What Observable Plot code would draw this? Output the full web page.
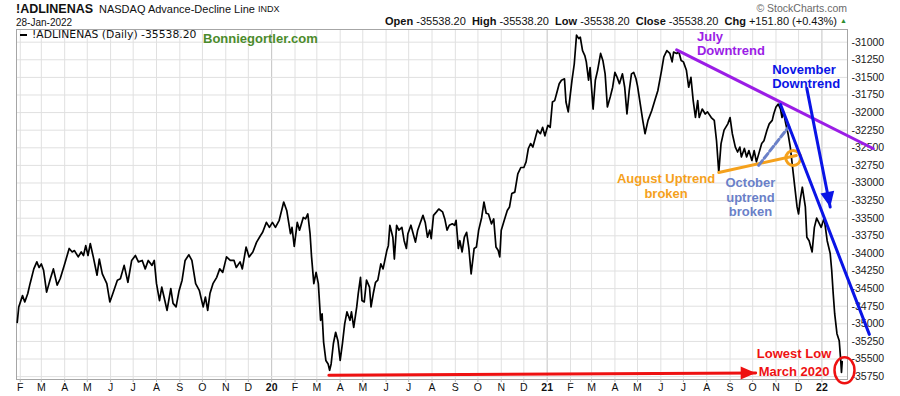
<!DOCTYPE html>
<html><head><meta charset="utf-8">
<script src="https://cdn.jsdelivr.net/npm/d3@7"></script>
<script src="https://cdn.jsdelivr.net/npm/@observablehq/plot@0.6"></script>
<style>
body{margin:0;background:#fff;}
#wrap{position:relative;width:900px;height:396px;overflow:hidden;font-family:"Liberation Sans",Arial,sans-serif;color:#111;}
#wrap svg{position:absolute;left:0;top:0;}
.abs{position:absolute;white-space:nowrap;line-height:1;}
</style></head><body>
<div id="wrap"></div>
<script>
// ---- data ----
const dates = ["2019-01-28","2019-01-30","2019-02-04","2019-02-07","2019-02-11","2019-02-14","2019-02-19","2019-02-23","2019-02-26","2019-03-01","2019-03-04","2019-03-08","2019-03-13","2019-03-17","2019-03-22","2019-03-26","2019-04-01","2019-04-07","2019-04-11","2019-04-14","2019-04-19","2019-04-23","2019-04-26","2019-04-29","2019-05-02","2019-05-05","2019-05-09","2019-05-14","2019-05-17","2019-05-21","2019-05-27","2019-05-31","2019-06-04","2019-06-10","2019-06-14","2019-06-19","2019-06-24","2019-06-29","2019-07-04","2019-07-08","2019-07-13","2019-07-17","2019-07-21","2019-07-26","2019-07-29","2019-08-01","2019-08-05","2019-08-08","2019-08-11","2019-08-15","2019-08-20","2019-08-23","2019-08-27","2019-08-31","2019-09-04","2019-09-08","2019-09-13","2019-09-17","2019-09-22","2019-09-27","2019-10-02","2019-10-05","2019-10-08","2019-10-11","2019-10-15","2019-10-20","2019-10-24","2019-10-28","2019-11-02","2019-11-07","2019-11-12","2019-11-15","2019-11-20","2019-11-23","2019-11-28","2019-12-02","2019-12-07","2019-12-12","2019-12-17","2019-12-20","2019-12-25","2019-12-29","2020-01-02","2020-01-06","2020-01-11","2020-01-17","2020-01-21","2020-01-26","2020-01-28","2020-01-31","2020-02-04","2020-02-07","2020-02-12","2020-02-15","2020-02-18","2020-02-21","2020-02-23","2020-02-26","2020-02-29","2020-03-03","2020-03-06","2020-03-08","2020-03-10","2020-03-13","2020-03-16","2020-03-18","2020-03-20","2020-03-23","2020-03-26","2020-03-29","2020-04-01","2020-04-04","2020-04-07","2020-04-10","2020-04-14","2020-04-16","2020-04-19","2020-04-23","2020-04-25","2020-04-28","2020-04-30","2020-05-03","2020-05-06","2020-05-10","2020-05-12","2020-05-15","2020-05-18","2020-05-21","2020-05-25","2020-05-28","2020-06-02","2020-06-04","2020-06-06","2020-06-10","2020-06-12","2020-06-15","2020-06-18","2020-06-22","2020-06-25","2020-06-28","2020-06-30","2020-07-04","2020-07-07","2020-07-10","2020-07-13","2020-07-16","2020-07-20","2020-07-23","2020-07-26","2020-07-29","2020-07-31","2020-08-03","2020-08-07","2020-08-10","2020-08-15","2020-08-18","2020-08-21","2020-08-24","2020-08-28","2020-08-31","2020-09-02","2020-09-05","2020-09-07","2020-09-10","2020-09-13","2020-09-16","2020-09-19","2020-09-22","2020-09-26","2020-09-29","2020-10-02","2020-10-06","2020-10-09","2020-10-12","2020-10-15","2020-10-19","2020-10-22","2020-10-25","2020-10-28","2020-10-30","2020-11-01","2020-11-05","2020-11-09","2020-11-12","2020-11-15","2020-11-19","2020-11-23","2020-11-27","2020-12-01","2020-12-04","2020-12-07","2020-12-10","2020-12-13","2020-12-16","2020-12-19","2020-12-23","2020-12-26","2020-12-29","2021-01-02","2021-01-05","2021-01-08","2021-01-11","2021-01-14","2021-01-17","2021-01-20","2021-01-24","2021-01-26","2021-01-29","2021-02-03","2021-02-06","2021-02-09","2021-02-12","2021-02-14","2021-02-17","2021-02-20","2021-02-22","2021-02-25","2021-02-27","2021-03-03","2021-03-06","2021-03-09","2021-03-13","2021-03-16","2021-03-19","2021-03-22","2021-03-26","2021-03-29","2021-04-01","2021-04-04","2021-04-07","2021-04-11","2021-04-14","2021-04-17","2021-04-20","2021-04-23","2021-04-26","2021-04-29","2021-05-01","2021-05-04","2021-05-08","2021-05-11","2021-05-15","2021-05-20","2021-05-24","2021-05-28","2021-06-02","2021-06-05","2021-06-09","2021-06-13","2021-06-16","2021-06-18","2021-06-22","2021-06-25","2021-06-28","2021-07-01","2021-07-05","2021-07-08","2021-07-11","2021-07-14","2021-07-17","2021-07-20","2021-07-22","2021-07-26","2021-07-30","2021-08-02","2021-08-07","2021-08-11","2021-08-14","2021-08-17","2021-08-20","2021-08-24","2021-08-29","2021-09-01","2021-09-04","2021-09-08","2021-09-11","2021-09-14","2021-09-16","2021-09-20","2021-09-23","2021-09-26","2021-09-30","2021-10-03","2021-10-06","2021-10-09","2021-10-13","2021-10-16","2021-10-20","2021-10-23","2021-10-27","2021-10-29","2021-11-01","2021-11-04","2021-11-07","2021-11-09","2021-11-11","2021-11-14","2021-11-17","2021-11-20","2021-11-22","2021-11-24","2021-11-26","2021-11-29","2021-12-01","2021-12-03","2021-12-06","2021-12-10","2021-12-12","2021-12-15","2021-12-19","2021-12-22","2021-12-25","2021-12-31","2022-01-04","2022-01-08","2022-01-12","2022-01-14","2022-01-16","2022-01-18","2022-01-21","2022-01-24","2022-01-26","2022-01-27","2022-01-28"];
const values = [-34980,-34760,-34600,-34690,-34570,-34430,-34220,-34120,-34200,-34150,-34240,-34550,-34360,-34220,-34450,-34360,-34150,-33930,-33980,-33960,-34050,-33980,-34030,-33890,-34030,-33860,-34050,-34310,-34080,-34290,-34430,-34690,-34570,-34380,-34360,-34170,-34410,-34100,-34030,-34120,-34100,-34220,-34100,-34170,-34100,-34430,-34670,-34480,-34620,-34810,-34500,-34710,-34760,-34530,-34380,-34100,-34020,-34100,-34430,-34530,-34760,-34620,-34810,-34570,-34430,-34340,-34220,-34270,-34050,-34100,-34100,-34200,-34120,-34220,-33910,-34050,-33980,-33840,-33750,-33700,-33560,-33630,-33560,-33630,-33530,-33270,-33390,-33720,-33630,-33900,-33560,-33670,-33490,-33510,-33440,-33720,-34050,-34430,-34270,-34430,-34950,-34860,-35260,-35520,-35570,-35660,-35570,-35280,-35120,-35240,-35520,-35280,-35000,-34830,-34950,-34830,-35050,-34760,-34570,-34340,-34670,-34690,-34380,-34480,-34760,-34570,-34410,-34380,-34150,-34220,-33960,-33890,-33600,-33770,-34080,-33600,-33670,-33630,-33820,-33930,-33720,-33600,-33720,-33840,-33670,-33580,-33460,-33560,-33770,-33670,-33790,-33460,-33410,-33370,-33410,-33510,-33670,-33600,-33580,-33600,-33530,-33930,-33820,-33980,-33770,-33700,-33930,-34290,-33930,-33910,-33670,-33490,-33270,-33430,-33440,-33580,-33510,-33910,-33960,-34050,-33670,-33530,-33390,-33340,-33150,-33130,-32870,-32780,-32780,-32700,-32510,-32440,-32490,-32370,-32250,-32300,-32210,-32330,-32180,-32210,-31850,-31830,-31710,-31590,-31540,-31520,-31850,-31990,-31540,-31310,-30900,-30950,-30930,-31120,-31190,-31280,-31540,-31360,-31950,-31540,-31400,-31160,-31260,-31450,-31920,-31770,-31640,-31430,-31500,-31590,-31450,-31640,-32020,-31690,-31450,-31430,-31520,-31620,-31830,-32110,-32300,-32110,-31970,-31830,-31690,-31400,-31210,-31120,-31160,-31280,-31140,-31160,-31140,-31260,-31280,-31400,-31640,-31500,-31830,-32070,-31830,-32070,-31950,-32020,-31990,-32070,-32110,-32400,-32850,-32440,-32250,-32160,-32070,-32300,-32490,-32560,-32490,-32630,-32510,-32630,-32540,-32680,-32540,-32700,-32590,-32440,-32400,-32250,-32160,-32110,-32020,-31920,-31880,-31950,-32070,-31990,-32160,-32300,-32490,-32680,-32870,-33060,-33340,-33440,-33250,-33060,-33340,-33770,-33820,-33980,-33630,-33500,-33630,-33500,-33820,-34000,-34240,-34570,-34860,-35140,-35240,-35520,-35690,-35538.2];

const xDomain = ["2019-01-27", "2022-02-04"];
const yDomain = [-35791, -30820];
const yTicks = [-31000,-31250,-31500,-31750,-32000,-32250,-32500,-32750,-33000,-33250,-33500,-33750,-34000,-34250,-34500,-34750,-35000,-35250,-35500,-35750];
const xTickDates = ["2019-02-01","2019-03-01","2019-04-01","2019-05-01","2019-06-01","2019-07-01","2019-08-01","2019-09-01","2019-10-01","2019-11-01","2019-12-01","2020-01-01","2020-02-01","2020-03-01","2020-04-01","2020-05-01","2020-06-01","2020-07-01","2020-08-01","2020-09-01","2020-10-01","2020-11-01","2020-12-01","2021-01-01","2021-02-01","2021-03-01","2021-04-01","2021-05-01","2021-06-01","2021-07-01","2021-08-01","2021-09-01","2021-10-01","2021-11-01","2021-12-01","2022-01-01"];
const xTickLabels = ["F","M","A","M","J","J","A","S","O","N","D","20","F","M","A","M","J","J","A","S","O","N","D","21","F","M","A","M","J","J","A","S","O","N","D","22"];

// annotation geometry (date, value pairs)
const julyTrendDates = ["2021-06-22", "2022-03-10"];
const julyTrendValues = [-31110, -32510];
const novTrendDates = ["2021-11-07", "2022-03-05"];
const novTrendValues = [-31885, -35150];
const novArrowDates = ["2021-12-12", "2022-01-12"];
const novArrowValues = [-31660, -33340];
const augTrendDates = ["2021-08-17", "2021-11-28"];
const augTrendValues = [-32850, -32610];
const octTrendDates = ["2021-10-09", "2021-11-18"];
const octTrendValues = [-32750, -32200];
const augBreakDate = "2021-11-24";
const augBreakValue = -32645;
const lowArrowDates = ["2020-03-17", "2021-10-05"];
const lowArrowValues = [-35730, -35700];
const lastCircleDate = "2022-01-31";
const lastCircleValue = -35660;

const noteTexts = ["July\nDowntrend", "November\nDowntrend", "August Uptrend\nbroken", "October\nuptrend\nbroken", "Lowest Low\nMarch 2020"];
const noteDates = ["2021-07-19", "2021-10-27", "2021-06-08", "2021-09-28", "2021-11-25"];
const noteValues = [-30845, -31310, -32850, -32900, -35300];

// ---- build ----
const parse = d3.utcParse("%Y-%m-%d");
const series = dates.map((d, i) => ({date: parse(d), value: values[i]}));
const pairs = (ds, vs) => ds.map((d, i) => ({date: parse(d), value: vs[i]}));
const labelMap = new Map(xTickDates.map((d, i) => [+parse(d), xTickLabels[i]]));
const monthDates = xTickDates.filter((d, i) => xTickLabels[i].length === 1).map(parse);
const yearDates = xTickDates.filter((d, i) => xTickLabels[i].length === 2).map(parse);
const notes = noteTexts.map((t, i) => ({text: t, date: parse(noteDates[i]), value: noteValues[i]}));

const PURPLE = "#9b1de6", BLUE = "#0a14e6", ORANGE = "#f5a11c", SLATE = "#6a80c8", RED = "#ee1111";

function headSymbol(angleDeg, len, half) {
  const a = angleDeg * Math.PI / 180, dx = Math.cos(a), dy = Math.sin(a);
  return {draw(ctx) {
    ctx.moveTo(0, 0);
    ctx.lineTo(-len * dx - half * dy, -len * dy + half * dx);
    ctx.lineTo(-len * dx + half * dy, -len * dy - half * dx);
    ctx.closePath();
  }};
}
const ellipseSymbol = {draw(ctx) {
  const rx = 10, ry = 13, k = 0.5523;
  ctx.moveTo(rx, 0);
  ctx.bezierCurveTo(rx, ry * k, rx * k, ry, 0, ry);
  ctx.bezierCurveTo(-rx * k, ry, -rx, ry * k, -rx, 0);
  ctx.bezierCurveTo(-rx, -ry * k, -rx * k, -ry, 0, -ry);
  ctx.bezierCurveTo(rx * k, -ry, rx, -ry * k, rx, 0);
  ctx.closePath();
}};

const font = "Liberation Sans, Arial, sans-serif";
const noteText = (i, color, anchor, lh) => Plot.text([notes[i]], {
  x: "date", y: "value", text: "text", fill: color, fontWeight: "bold", fontSize: 13,
  textAnchor: anchor, lineAnchor: "top", lineHeight: lh, fontFamily: font
});

const chart = Plot.plot({
  width: 900, height: 396,
  marginTop: 29, marginRight: 53, marginBottom: 17, marginLeft: 16,
  style: {fontFamily: font, fontSize: "10.5px", background: "transparent", overflow: "visible"},
  x: {type: "utc", domain: xDomain.map(parse)},
  y: {domain: yDomain},
  marks: [
    Plot.gridX(monthDates, {stroke: "#e0e0e0", strokeOpacity: 1}),
    Plot.gridX(yearDates, {stroke: "#c2c2c2", strokeOpacity: 1}),
    Plot.gridY(yTicks, {stroke: "#e0e0e0", strokeOpacity: 1}),
    Plot.frame({stroke: "#a6a6a6"}),
    Plot.axisX(monthDates, {anchor: "bottom", tickSize: 3, tickPadding: 1, stroke: "#b5b5b5", fill: "#111",
      tickFormat: d => labelMap.get(+d), label: null, fontSize: 10.5}),
    Plot.axisX(yearDates, {anchor: "bottom", tickSize: 3, tickPadding: 1, stroke: "#b5b5b5", fill: "#111",
      tickFormat: d => labelMap.get(+d), label: null, fontSize: 10.5, fontWeight: "bold"}),
    Plot.axisY(yTicks, {anchor: "right", tickSize: 0, tickPadding: 4, fill: "#1a1a1a",
      tickFormat: d => String(d), label: null, fontSize: 10.5}),
    Plot.line(series, {x: "date", y: "value", stroke: "#000", strokeWidth: 1.7}),
    // trend lines
    Plot.line(pairs(julyTrendDates, julyTrendValues), {x: "date", y: "value", stroke: PURPLE, strokeWidth: 3}),
    Plot.line(pairs(augTrendDates, augTrendValues), {x: "date", y: "value", stroke: ORANGE, strokeWidth: 3}),
    Plot.line(pairs(octTrendDates, octTrendValues), {x: "date", y: "value", stroke: SLATE, strokeWidth: 3, strokeDasharray: "6,3"}),
    Plot.dot([{date: parse(augBreakDate), value: augBreakValue}], {x: "date", y: "value", r: 7.5, stroke: ORANGE, strokeWidth: 3, fill: "none"}),
    Plot.line(pairs(novTrendDates, novTrendValues), {x: "date", y: "value", stroke: BLUE, strokeWidth: 3}),
    Plot.line(pairs(novArrowDates, novArrowValues), {x: "date", y: "value", stroke: BLUE, strokeWidth: 3}),
    Plot.dot(pairs(novArrowDates, novArrowValues).slice(1), {x: "date", y: "value", r: 5, symbol: headSymbol(79, 15, 7), fill: BLUE, stroke: "none"}),
    Plot.line(pairs(lowArrowDates, lowArrowValues), {x: "date", y: "value", stroke: RED, strokeWidth: 3}),
    Plot.dot(pairs(lowArrowDates, lowArrowValues).slice(1), {x: "date", y: "value", r: 5, symbol: headSymbol(0, 15, 6.5), fill: RED, stroke: "none"}),
    Plot.dot([{date: parse(lastCircleDate), value: lastCircleValue}], {x: "date", y: "value", r: 10, symbol: ellipseSymbol, stroke: RED, strokeWidth: 2.5, fill: "none"}),
    // annotation texts
    noteText(0, PURPLE, "start", 1.08),
    noteText(1, BLUE, "start", 1.08),
    noteText(2, ORANGE, "middle", 1.15),
    noteText(3, SLATE, "middle", 1.15),
    noteText(4, RED, "middle", 1.4)
  ]
});

const wrap = document.getElementById("wrap");
wrap.appendChild(chart);

function addText(html, style) {
  const el = document.createElement("div");
  el.className = "abs";
  el.setAttribute("style", style);
  el.innerHTML = html;
  wrap.appendChild(el);
  return el;
}
addText("!ADLINENAS", "left:16px;top:2.5px;font-size:12.5px;font-weight:bold;");
addText("NASDAQ Advance-Decline Line", "left:99px;top:3.5px;font-size:11px;");
addText("INDX", "left:258px;top:4.5px;font-size:9px;");
addText("28-Jan-2022", "left:16px;top:17.5px;font-size:10px;");
addText("&copy; StockCharts.com", "right:53px;top:3px;font-size:10.5px;color:#6a6a6a;");
addText("<b>Open</b> -35538.20 &nbsp;<b>High</b> -35538.20 &nbsp;<b>Low</b> -35538.20 &nbsp;<b>Close</b> -35538.20 &nbsp;<b>Chg</b> +151.80 (+0.43%) <span style=\"color:#2e8b2e;font-size:7px;vertical-align:2px\">&#9650;</span>",
  "right:53px;top:16.3px;font-size:11px;");
addText("", "left:20px;top:33.5px;width:7px;height:2px;background:#000;");
addText("!ADLINENAS (Daily) -35538.20", "left:32px;top:29.5px;font-size:10.8px;font-family:'DejaVu Sans',sans-serif;");
addText("Bonniegortler.com", "left:203px;top:31.5px;font-size:13px;font-weight:bold;color:#4b8b2b;");
</script>
</body></html>
